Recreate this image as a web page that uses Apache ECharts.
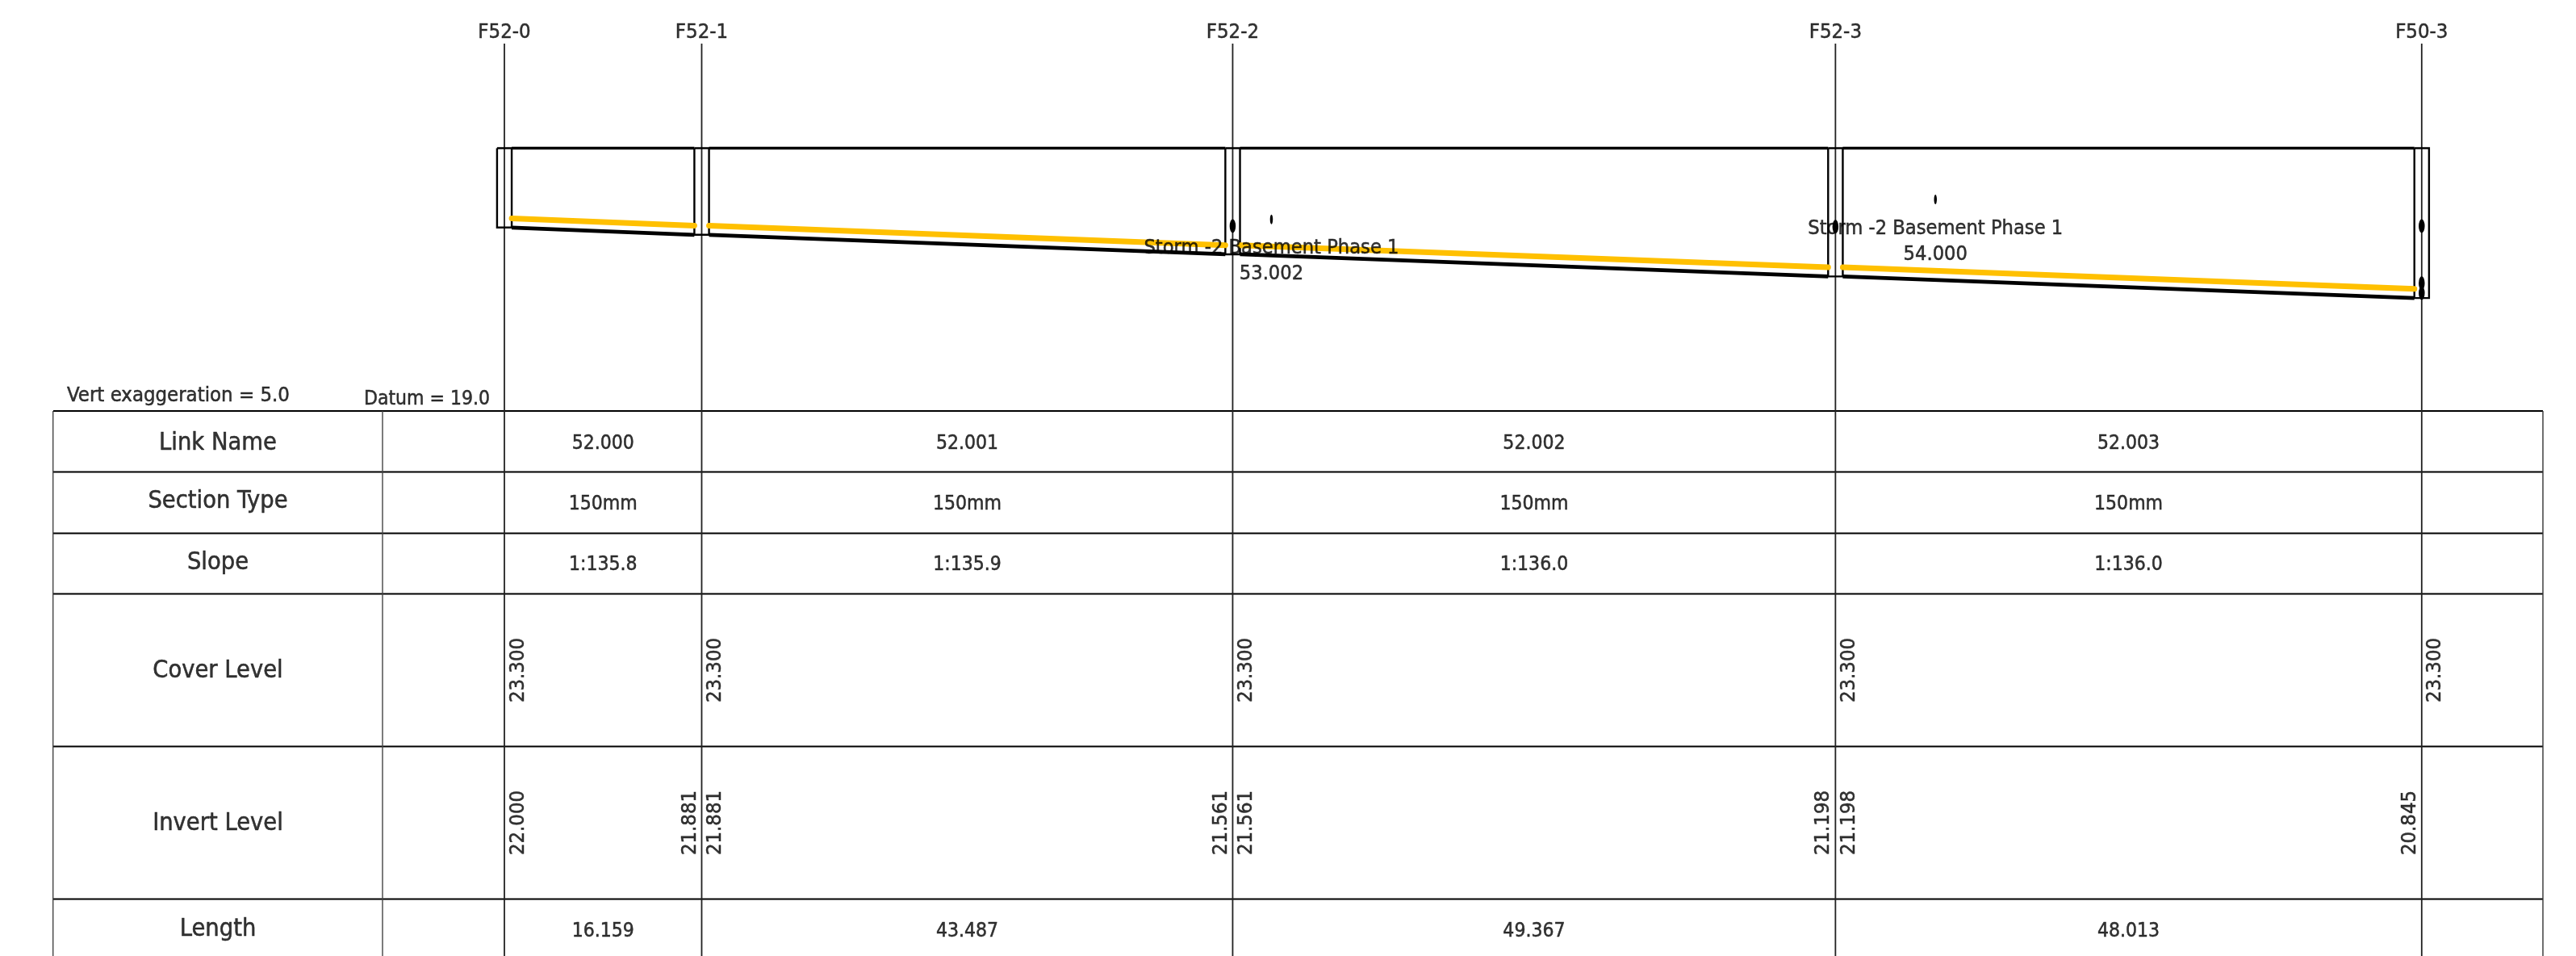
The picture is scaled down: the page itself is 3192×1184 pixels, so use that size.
<!DOCTYPE html>
<html><head><meta charset="utf-8">
<style>html,body{margin:0;padding:0;background:#fff}#c{width:3192px;height:1184px}</style>
<script src="https://cdn.jsdelivr.net/npm/echarts@6/dist/echarts.min.js"></script>
</head><body><div id="c"></div>
<script>
// ---- data ----
const nodeNames = ['F52-0','F52-1','F52-2','F52-3','F50-3'];
const nodeChainage = [0,16.159,59.646,109.013,157.026];
const coverLevels = [23.3,23.3,23.3,23.3,23.3];
const nodeInvert = [22.000,21.881,21.561,21.198,20.845];
const linkNames = ['52.000','52.001','52.002','52.003'];
const sectionTypes = ['150mm','150mm','150mm','150mm'];
const slopes = ['1:135.8','1:135.9','1:136.0','1:136.0'];
const lengths = ['16.159','43.487','49.367','48.013'];
const usInvert = [22.000,21.881,21.561,21.198];
const dsInvert = [21.881,21.561,21.198,20.845];
const pipeDiameter = 0.15;
const chamberHalfWidth = 0.6;
const rowTitles = ['Link Name','Section Type','Slope','Cover Level','Invert Level','Length'];
const incomingChainage = [62.82,117.2];
const incomingLevel = [22.133,22.46];
const incomingNames = ['Storm -2 Basement Phase 1','Storm -2 Basement Phase 1'];
const incomingRefs = ['53.002','54.000'];
const largeMarkChainage = [59.646,109.013,157.026,157.026,157.026];
const largeMarkLevel = [22.023,22.014,22.023,21.087,20.925];

// ---- layout of the sheet (drawing units = pixels from the top of the sheet) ----
const W=3192,H=1184,pxPerM=15.13,pxPerLevel=75.6,x0=625,yCover=183.5;
const rowEdges=[509,584.5,660.5,735.5,924.5,1113.5];
const colEdges=[65.7,474];
const xAt=px=>(px-x0)/pxPerM;
const tableLeft=xAt(66),tableRight=xAt(3151),titleX=xAt(270);
const yMax=coverLevels[0]+yCover/pxPerLevel;
const F='"DejaVu Sans Condensed","DejaVu Sans",Lato';

const line=(pts,color,width,axis,cap,z)=>({type:'line',data:pts,yAxisIndex:axis,symbol:'none',silent:true,animation:false,z:z,clip:false,
  lineStyle:{color,width,cap:cap||'butt',join:'miter'}});
const text=(pts,labels,size,opt)=>({type:'scatter',yAxisIndex:(opt&&opt.axis)||0,symbolSize:0,silent:true,animation:false,z:20,
  data:pts.map((p,i)=>({value:p,label:{show:true,position:'inside',formatter:String(labels[i]),color:'#000',fontFamily:F,fontSize:size,
    textBorderColor:'#000',textBorderWidth:0.5,
    align:'center',verticalAlign:'middle',rotate:(opt&&opt.rotate)||0,offset:(opt&&opt.offset)||[0,0]}}))});

const series=[];
// table rules
rowEdges.forEach(y=>series.push(line([[tableLeft,y],[tableRight,y]],'#000',1.8,1,'butt',2)));
series.push(line([[tableRight,rowEdges[0]],[tableRight,H]],'#333',1.4,1,'butt',2));
colEdges.forEach(x=>series.push(line([[xAt(x),rowEdges[0]],[xAt(x),H]],'#444',1.4,1,'butt',2)));
// node drop lines
nodeChainage.forEach(c=>series.push(line([[c,54],[c,H]],'#222',1.8,1,'butt',3)));
// chambers
nodeChainage.forEach((c,i)=>{
  const a=c-chamberHalfWidth,b=c+chamberHalfWidth,t=coverLevels[i],u=nodeInvert[i];
  series.push(line([[a,t],[b,t],[b,u],[a,u],[a,t]],'#000',2.4,0,'butt',4));
});
// cover, invert, soffit
linkNames.forEach((n,i)=>{
  const a=nodeChainage[i]+chamberHalfWidth,b=nodeChainage[i+1]-chamberHalfWidth;
  series.push(line([[a,coverLevels[i]],[b,coverLevels[i+1]]],'#000',3.4,0,'butt',5));
  series.push(line([[a,usInvert[i]],[b,dsInvert[i]]],'#000',4.8,0,'butt',5));
  series.push(line([[a,usInvert[i]+pipeDiameter],[b,dsInvert[i]+pipeDiameter]],'#FFC000',7,0,'round',6));
});
// connection marks
series.push({type:'scatter',symbol:'circle',symbolSize:[7.5,17],silent:true,animation:false,z:8,itemStyle:{color:'#000',opacity:1},
  data:largeMarkChainage.map((c,i)=>[c,largeMarkLevel[i]])});
series.push({type:'scatter',symbol:'circle',symbolSize:[3.5,12],silent:true,animation:false,z:8,itemStyle:{color:'#000',opacity:1},
  data:incomingChainage.map((c,i)=>[c,incomingLevel[i]])});
// connection texts
const incomingPts=incomingChainage.map((c,i)=>[c,incomingLevel[i]]);
series.push(text(incomingPts,incomingNames,25.2,{offset:[0,36]}));
series.push(text(incomingPts,incomingRefs,25.2,{offset:[0,68]}));
// node names
series.push(text(nodeChainage.map(c=>[c,40.5]),nodeNames,25.5,{axis:1}));
// notes
series.push(text([[xAt(221),490]],['Vert exaggeration = 5.0'],25.5,{axis:1}));
series.push(text([[xAt(529),494.5]],['Datum = 19.0'],24.5,{axis:1}));
// row titles
const titleY=[549.5,621.5,697.5,831.5,1020.5,1151.5];
series.push(text(titleY.map(y=>[titleX,y]),rowTitles,30.5,{axis:1}));
// link cells
const mids=linkNames.map((_,i)=>(nodeChainage[i]+nodeChainage[i+1])/2);
[[linkNames,549.5],[sectionTypes,624.5],[slopes,699.5],[lengths,1153.5]].forEach(([vals,y])=>{
  series.push(text(mids.map(m=>[m,y]),vals,24.5,{axis:1}));
});
// rotated levels
series.push(text(nodeChainage.map(c=>[c,830]),coverLevels.map(v=>v.toFixed(3)),25.5,{axis:1,rotate:90,offset:[0,17]}));
series.push(text(nodeChainage.slice(0,-1).map(c=>[c,1019]),usInvert.map(v=>v.toFixed(3)),25.5,{axis:1,rotate:90,offset:[0,17]}));
series.push(text(nodeChainage.slice(1).map(c=>[c,1019]),dsInvert.map(v=>v.toFixed(3)),25.5,{axis:1,rotate:90,offset:[0,-14.5]}));

const chart=echarts.init(document.getElementById('c'),null,{renderer:'canvas'});
chart.setOption({
  backgroundColor:'#fff',animation:false,
  grid:{left:0,right:0,top:0,bottom:0},
  xAxis:{type:'value',show:false,min:xAt(0),max:xAt(W),splitLine:{show:false}},
  yAxis:[
    {type:'value',show:false,min:yMax-H/pxPerLevel,max:yMax,splitLine:{show:false}},
    {type:'value',show:false,inverse:true,min:0,max:H,splitLine:{show:false}}
  ],
  tooltip:{show:false},legend:{show:false},
  series
});
</script></body></html>
